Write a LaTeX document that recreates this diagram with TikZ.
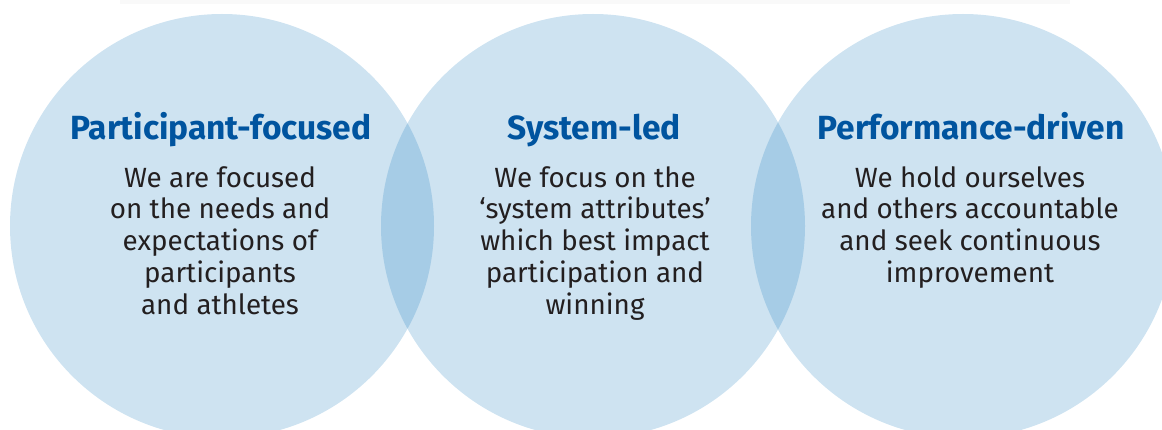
\documentclass[tikz,border=0pt]{standalone}
\usepackage{fontspec}
\setmainfont{Fira Sans}
\definecolor{circfill}{RGB}{206,227,241}
\definecolor{lensfill}{RGB}{166,204,230}
\definecolor{titleblue}{RGB}{0,84,159}
\definecolor{bodytext}{RGB}{35,31,32}
\definecolor{topband}{RGB}{249,249,249}
\tikzset{
  circ/.style={fill=circfill, draw=none},
  lens/.style={fill=lensfill, draw=none},
  title/.style={anchor=base, text=titleblue, font=\fontsize{33.5}{38}\selectfont\bfseries, inner sep=0pt},
  body/.style={anchor=north, text=bodytext, font=\fontsize{27.8}{31.8}\selectfont, align=center, inner sep=0pt},
}
\begin{document}
\begin{tikzpicture}[x=1pt,y=-1pt]
\useasboundingbox (0,0) rectangle (1162,430);
\clip (0,0) rectangle (1162,430);
\fill[topband] (120,0) rectangle (1070,4);
\coordinate (c1) at (222,226);
\coordinate (c2) at (593,226);
\coordinate (c3) at (963,226);
\fill[circ] (c1) circle[radius=212];
\fill[circ] (c2) circle[radius=212];
\fill[circ] (c3) circle[radius=212];
\begin{scope}
  \clip (c1) circle[radius=212];
  \fill[lens] (c2) circle[radius=212];
\end{scope}
\begin{scope}
  \clip (c2) circle[radius=212];
  \fill[lens] (c3) circle[radius=212];
\end{scope}
\node[title] (t1) at (221,140) {Participant-focused};
\node[title] (t2) at (594,140) {System-led};
\node[title] (t3) at (971,140) {Performance-driven};
\node[body] (b1) at (220,166) {We are focused\\on the needs and\\expectations of\\participants\\and athletes};
\node[body] (b2) at (595,166) {We focus on the\\‘system attributes’\\which best impact\\participation and\\winning};
\node[body] (b3) at (970,166) {We hold ourselves\\and others accountable\\and seek continuous\\improvement};
\end{tikzpicture}
\end{document}
